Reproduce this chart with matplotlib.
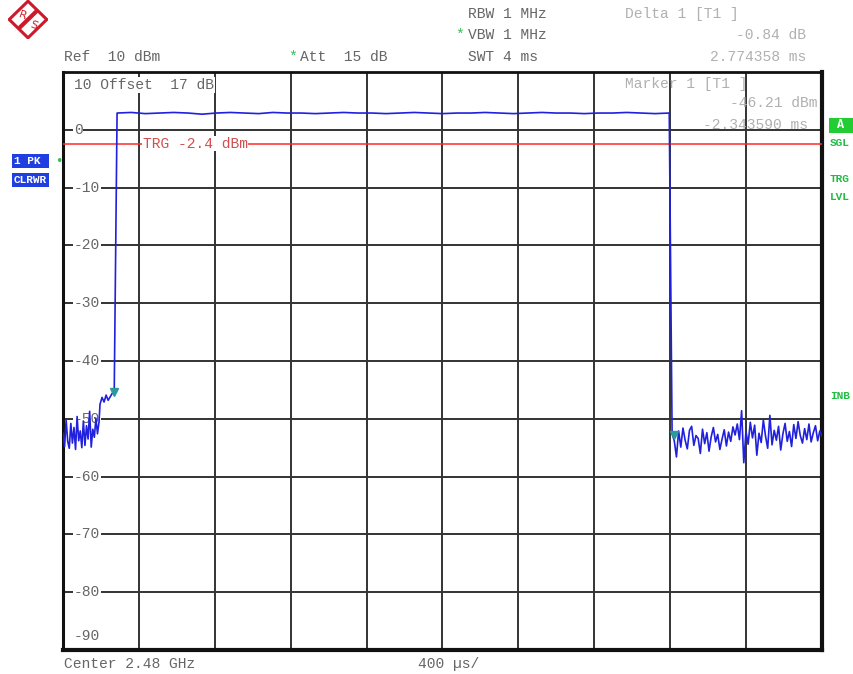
import numpy as np
import matplotlib
matplotlib.use("Agg")
import matplotlib.pyplot as plt
from matplotlib.patches import Polygon, Rectangle

# ---------------- data ----------------
x_span_ms = (0.0, 4.0)          # 400 us/div, 10 divisions
y_span_dbm = (-90.0, 10.0)
y_tick_values = [0, -10, -20, -30, -40, -50, -60, -70, -80]
trigger_level = -2.4

noise_left_time = (0.0, 0.19)
noise_left_level = [-52.5, -54.8, -50.2, -53.9, -55.1, -50.8, -54.2, -51.5, -55.3, -49.6,
                    -53.8, -52.1, -55.0, -50.4, -54.6, -51.2, -53.5, -48.7, -54.9, -51.8,
                    -53.2, -49.9, -52.6, -50.5]
step_time = (0.195, 0.27)
step_level = [-47.5, -46.3, -47.1, -45.9, -46.8, -46.2, -45.6, -45.3]
plateau_time = (0.285, 3.195)
plateau_level = [2.9, 3.0, 2.8, 2.9, 3.0, 2.9, 2.7, 2.9, 3.0, 2.9, 2.8, 3.0, 2.9, 2.9, 2.8,
                 2.9, 3.0, 2.9, 2.9, 2.8, 2.9, 3.0, 2.9, 2.8, 2.9, 2.9, 3.0, 2.9, 2.8, 2.9,
                 3.0, 2.9, 2.9, 2.8, 2.9, 2.9, 3.0, 2.9, 2.8, 2.9]
noise_right_time = (3.21, 4.0)
noise_right_level = [-52.6, -53.8, -56.6, -52.1, -54.9, -51.6, -53.7, -55.2, -52.0, -51.3,
                     -54.6, -52.9, -53.4, -56.0, -51.8, -54.3, -52.4, -55.6, -53.1, -51.5,
                     -54.0, -52.7, -55.3, -53.5, -51.9, -54.7, -52.3, -53.9, -51.4, -52.8,
                     -50.9, -53.6, -48.6, -57.6, -52.2, -54.4, -50.6, -53.3, -51.1, -56.3,
                     -52.5, -54.1, -50.2, -53.0, -55.1, -49.4, -54.5, -52.0, -53.7, -51.3,
                     -55.4, -52.6, -50.8, -53.9, -52.2, -54.8, -51.0, -53.4, -50.5, -52.9,
                     -54.2, -51.7, -53.6, -50.9, -54.0, -52.4, -51.2, -53.8, -52.1, -53.0]
marker_time = [0.27, 3.22]
marker_level = [-45.3, -52.8]

# ---------------- figure ----------------
W, H = 854, 674
fig = plt.figure(figsize=(W / 100, H / 100), dpi=100)
fig.patch.set_facecolor("white")

def fx(x):
    return x / W

def fy(y):
    return 1 - y / H

L, R, T, B = 63, 822, 72, 650
ax = fig.add_axes([fx(L), fy(B), fx(R) - fx(L), fy(T) - fy(B)])
ax.set_xlim(*x_span_ms)
ax.set_ylim(*y_span_dbm)
ax.set_xticks(np.linspace(x_span_ms[0], x_span_ms[1], 11))
ax.set_yticks(np.arange(-90, 11, 10))
ax.tick_params(length=0, labelbottom=False, labelleft=False)
ax.grid(True, color="#333333", lw=1.4)
ax.set_axisbelow(True)
for side, lw in [("left", 2.2), ("top", 2.0), ("right", 3.0), ("bottom", 3.0)]:
    ax.spines[side].set_linewidth(lw)
    ax.spines[side].set_color("#111111")

mono = "Liberation Mono"
gray = "#666666"
light = "#b0b0b0"

# y labels inside the grid
lab_x = 0.058
for v in y_tick_values:
    ax.text(lab_x, v, str(v), family=mono, fontsize=10.5, color=gray, va="center", ha="left",
            bbox=dict(facecolor="white", edgecolor="none", pad=0.5), zorder=3)
ax.text(lab_x, -87.6, "-90", family=mono, fontsize=10.5, color=gray, va="center", ha="left",
        bbox=dict(facecolor="white", edgecolor="none", pad=0.5), zorder=3)
ax.text(lab_x, 7.75, "10 Offset  17 dB", family=mono, fontsize=10.5, color=gray, va="center",
        ha="left", bbox=dict(facecolor="white", edgecolor="none", pad=0.5), zorder=3)

# trigger line
ax.axhline(trigger_level, color="#ff2a2a", lw=1.1, zorder=4)
ax.text(0.42, trigger_level, "TRG -2.4 dBm", family=mono, fontsize=10.5, color="#d05050",
        va="center", ha="left", bbox=dict(facecolor="white", edgecolor="none", pad=0.5), zorder=5)

# trace
t = np.concatenate([
    np.linspace(*noise_left_time, len(noise_left_level)),
    np.linspace(*step_time, len(step_level)),
    np.linspace(*plateau_time, len(plateau_level)),
    np.linspace(*noise_right_time, len(noise_right_level)),
])
lvl = np.concatenate([noise_left_level, step_level, plateau_level, noise_right_level])
ax.plot(t, lvl, color="#2020dd", lw=1.2, zorder=6)
ax.plot(marker_time, marker_level, linestyle="none", marker="v", color="#2a9a9a",
        markersize=6, zorder=7)

# marker readouts (faded)
fig.text(fx(625), fy(84), "Marker 1 [T1 ]", family=mono, fontsize=10.5, color=light,
         va="center", ha="left")
fig.text(fx(818), fy(103), "-46.21 dBm", family=mono, fontsize=10.5, color=light,
         va="center", ha="right")
fig.text(fx(808), fy(125), "-2.343590 ms", family=mono, fontsize=10.5, color=light,
         va="center", ha="right")

# header texts
fig.text(fx(64), fy(57), "Ref  10 dBm", family=mono, fontsize=10.5, color=gray, va="center")
fig.text(fx(288), fy(57), "*", family=mono, fontsize=10.5, color="#33bb55", va="center")
fig.text(fx(300), fy(57), "Att  15 dB", family=mono, fontsize=10.5, color=gray, va="center")
fig.text(fx(468), fy(14), "RBW 1 MHz", family=mono, fontsize=10.5, color=gray, va="center")
fig.text(fx(455), fy(35), "*", family=mono, fontsize=10.5, color="#33bb55", va="center")
fig.text(fx(468), fy(35), "VBW 1 MHz", family=mono, fontsize=10.5, color=gray, va="center")
fig.text(fx(468), fy(57), "SWT 4 ms", family=mono, fontsize=10.5, color=gray, va="center")
fig.text(fx(625), fy(14), "Delta 1 [T1 ]", family=mono, fontsize=10.5, color=light, va="center")
fig.text(fx(806), fy(35), "-0.84 dB", family=mono, fontsize=10.5, color=light, va="center",
         ha="right")
fig.text(fx(806), fy(57), "2.774358 ms", family=mono, fontsize=10.5, color=light, va="center",
         ha="right")

# footer
fig.text(fx(64), fy(664), "Center 2.48 GHz", family=mono, fontsize=10.5, color=gray, va="center")
fig.text(fx(418), fy(664), "400 \u00b5s/", family=mono, fontsize=10.5, color=gray, va="center")

# left status boxes
blue = "#1f3fe0"
fig.text(fx(14), fy(161), "1 PK ", family=mono, fontsize=8, weight="bold", color="white",
         va="center", bbox=dict(facecolor=blue, edgecolor="none", pad=1.5))
fig.text(fx(14), fy(180), "CLRWR", family=mono, fontsize=8, weight="bold", color="white",
         va="center", bbox=dict(facecolor=blue, edgecolor="none", pad=1.5))
fig.text(fx(55), fy(161), "\u2022", fontsize=9, color="#33bb55", va="center")

# right status labels
green = "#22bb44"
fig.add_artist(Rectangle((fx(829), fy(133)), fx(854) - fx(829), fy(118) - fy(133),
                         transform=fig.transFigure, facecolor="#22cc33", edgecolor="none"))
fig.text(fx(841), fy(125), "A", family=mono, fontsize=8.5, weight="bold", color="white",
         va="center", ha="center")
for yy, s in [(143, "SGL"), (179, "TRG"), (197, "LVL"), (396, "INB")]:
    fig.text(fx(830), fy(yy), s, family=mono, fontsize=8, weight="bold", color=green,
             va="center")

# R&S logo
lax = fig.add_axes([fx(8), fy(39), 40 / W, 39 / H])
lax.set_xlim(-1, 1)
lax.set_ylim(-1, 1)
lax.axis("off")
lax.add_patch(Polygon([[0, 0.94], [0.94, 0], [0, -0.94], [-0.94, 0]], closed=True,
                      facecolor="white", edgecolor="#cc1a2a", lw=2.2))
lax.plot([-0.45, 0.45], [-0.45, 0.45], color="#cc1a2a", lw=3, solid_capstyle="butt")
lax.text(-0.28, 0.22, "R", color="#cc1a2a", fontsize=8, ha="center", va="center", rotation=-20)
lax.text(0.28, -0.3, "S", color="#cc1a2a", fontsize=8, ha="center", va="center", rotation=-20)

fig.savefig("out.png", dpi=100, facecolor="white")
